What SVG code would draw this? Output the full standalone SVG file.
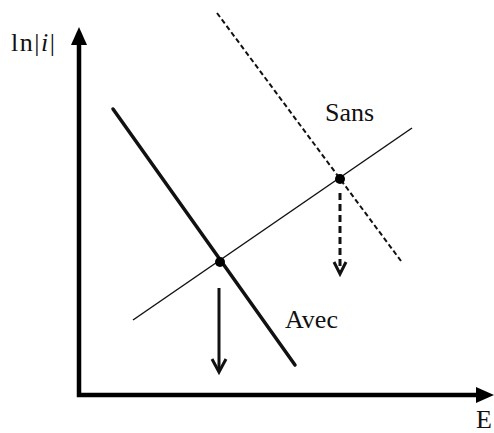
<svg xmlns="http://www.w3.org/2000/svg" width="494" height="433" viewBox="0 0 494 433">
<style>
  text { font-family: "Liberation Serif", "Times New Roman", serif; font-size: 26px; fill: #111; }
  .axis { stroke: #000; stroke-width: 4.5; fill: none; }
  .thick { stroke: #111; stroke-width: 3.5; fill: none; stroke-linecap: round; }
  .thin { stroke: #111; stroke-width: 1.5; fill: none; }
  .dash { stroke: #111; stroke-width: 2; fill: none; stroke-dasharray: 5 3; }
  .arr { stroke: #111; stroke-width: 3; fill: none; }
  .head { stroke: #111; stroke-width: 3; fill: none; stroke-linejoin: miter; }
</style>
<rect width="494" height="433" fill="#fff"/>
<g id="axes">
  <polyline class="axis" points="79,42 79,395 480,395"/>
  <polygon points="79,27 71,45 87,45" fill="#000"/>
  <polygon points="494,395 476,387 476,403" fill="#000"/>
  <text x="11" y="51" letter-spacing="1.5">ln|<tspan font-style="italic">i</tspan>|</text>
  <text x="476" y="428">E</text>
</g>
<g id="connectors">
  <line class="thin" x1="133" y1="320" x2="412" y2="128"/>
  <line class="dash" x1="217" y1="13" x2="401" y2="261"/>
  <line class="thick" x1="113" y1="109" x2="295" y2="365"/>
  <line class="arr" x1="219" y1="288" x2="219" y2="370"/>
  <polyline class="head" points="212,359 219,372 226,359"/>
  <line class="arr" x1="340" y1="193" x2="340" y2="272" stroke-dasharray="7 4"/>
  <polyline class="head" points="334,262 340,274 346,262"/>
</g>
<g id="avec">
  <circle cx="220" cy="262" r="5" fill="#000"/>
  <text x="285" y="328">Avec</text>
</g>
<g id="sans">
  <circle cx="340" cy="179" r="5" fill="#000"/>
  <text x="325" y="121">Sans</text>
</g>
</svg>
